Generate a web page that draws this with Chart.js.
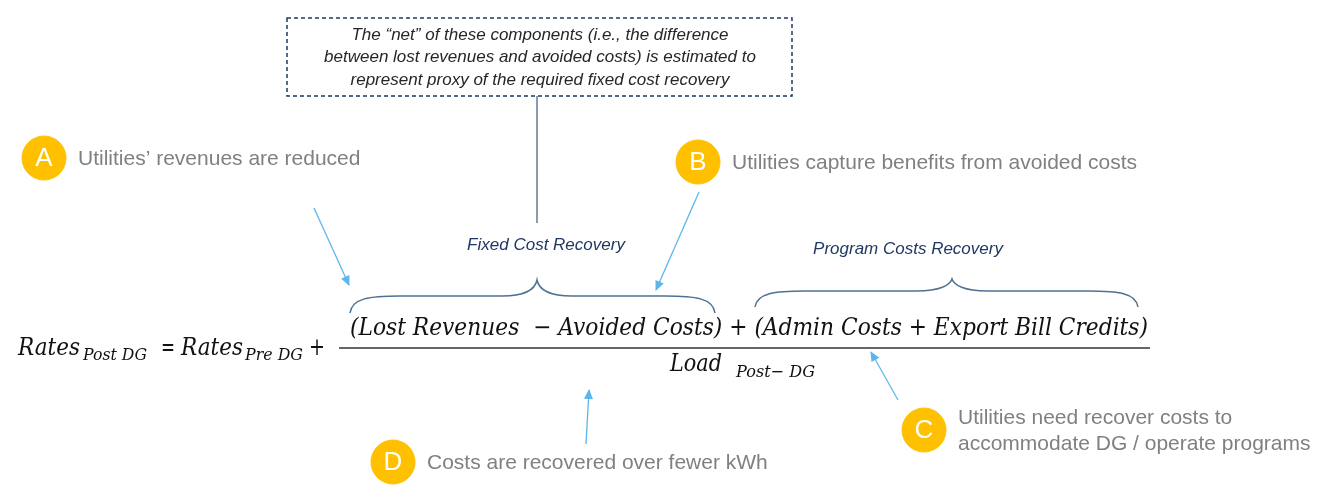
<!DOCTYPE html>
<html>
<head>
<meta charset="utf-8">
<script src="https://cdn.jsdelivr.net/npm/chart.js@4"></script>
<style>
  html, body { margin: 0; padding: 0; background: #fff; }
  canvas { display: block; }
</style>
</head>
<body>
<canvas id="diagram" width="1323" height="487"></canvas>
<script>
// Callout markers (letter, position in diagram units, note text)
const markerLetters = ["A", "B", "C", "D"];
const markerX = [44, 698, 924, 393];
const markerY = [158, 162, 430, 462];
const markerNotes = [
  ["Utilities\u2019 revenues are reduced"],
  ["Utilities capture benefits from avoided costs"],
  ["Utilities need recover costs to", "accommodate DG / operate programs"],
  ["Costs are recovered over fewer kWh"],
];

// Arrows: tail -> head
const arrowTail = [[314, 208], [699, 192], [898, 400], [586, 444]];
const arrowHead = [[349, 285], [656, 290], [871, 352], [589, 390]];

// Texts
const boxLines = [
  "The \u201cnet\u201d of these components (i.e., the difference",
  "between lost revenues and avoided costs) is estimated to",
  "represent proxy of the required fixed cost recovery",
];
const braceLabels = ["Fixed Cost Recovery", "Program Costs Recovery"];
const numerator = "(Lost Revenues  \u2212 Avoided Costs) + (Admin Costs + Export Bill Credits)";

const arrowColor = "#5DB6EA";
const braceColor = "#4F7193";
const navy = "#1F3864";
const grey = "#808080";
const mathFont = "\"DejaVu Serif\", serif";

// draw text squeezed/stretched to a target width
function fitText(ctx, text, x, y, width, font) {
  ctx.font = font;
  const w = ctx.measureText(text).width;
  const s = width / w;
  ctx.save();
  ctx.translate(x, y);
  ctx.scale(s, 1);
  ctx.fillText(text, 0, 0);
  ctx.restore();
}

function brace(ctx, px, x1, x2, tip, yEnd, yFlat, yTip) {
  const a = px(x1, yEnd), b = px(x2, yEnd), t = px(tip, yTip);
  const fl = px(0, yFlat).y;
  ctx.beginPath();
  ctx.moveTo(a.x, a.y);
  ctx.bezierCurveTo(a.x + 2, fl + 2, a.x + 20, fl, a.x + 50, fl);
  ctx.lineTo(t.x - 35, fl);
  ctx.bezierCurveTo(t.x - 12, fl, t.x - 2, fl - 6, t.x, t.y);
  ctx.bezierCurveTo(t.x + 2, fl - 6, t.x + 12, fl, t.x + 35, fl);
  ctx.lineTo(b.x - 50, fl);
  ctx.bezierCurveTo(b.x - 20, fl, b.x - 2, fl + 2, b.x, b.y);
  ctx.stroke();
}

const overlay = {
  id: "overlay",
  afterDatasetsDraw(chart) {
    const ctx = chart.ctx;
    const xs = chart.scales.x, ys = chart.scales.y;
    const px = (x, y) => ({ x: xs.getPixelForValue(x), y: ys.getPixelForValue(y) });
    ctx.save();

    // arrowheads
    ctx.fillStyle = arrowColor;
    arrowHead.forEach((h, i) => {
      const p = px(h[0], h[1]), q = px(arrowTail[i][0], arrowTail[i][1]);
      const ang = Math.atan2(p.y - q.y, p.x - q.x);
      ctx.save();
      ctx.translate(p.x, p.y);
      ctx.rotate(ang);
      ctx.beginPath();
      ctx.moveTo(1, 0);
      ctx.lineTo(-9, -4.5);
      ctx.lineTo(-9, 4.5);
      ctx.closePath();
      ctx.fill();
      ctx.restore();
    });

    // letters in circles and notes
    ctx.textBaseline = "middle";
    markerLetters.forEach((l, i) => {
      const p = px(markerX[i], markerY[i]);
      ctx.fillStyle = "#fff";
      ctx.textAlign = "center";
      ctx.font = "26px \"Liberation Sans\", Arial, sans-serif";
      ctx.fillText(l, p.x, p.y + 1);
      ctx.fillStyle = grey;
      ctx.textAlign = "left";
      ctx.font = "21px \"Liberation Sans\", Arial, sans-serif";
      const lines = markerNotes[i];
      lines.forEach((t, j) => {
        const dy = (j - (lines.length - 1) / 2) * 26;
        ctx.fillText(t, p.x + 34, p.y + dy + 1);
      });
    });

    // dashed box
    const b1 = px(287, 18), b2 = px(792, 96);
    ctx.strokeStyle = navy;
    ctx.lineWidth = 1.5;
    ctx.setLineDash([4, 3]);
    ctx.strokeRect(b1.x, b1.y, b2.x - b1.x, b2.y - b1.y);
    ctx.setLineDash([]);
    ctx.fillStyle = "#262626";
    ctx.textAlign = "center";
    ctx.font = "italic 17px \"Liberation Sans\", Arial, sans-serif";
    boxLines.forEach((t, j) => {
      const p = px(540, 35 + j * 22.5);
      ctx.fillText(t, p.x, p.y);
    });

    // connector from the box down to the brace label
    const c1 = px(537, 96), c2 = px(537, 223);
    ctx.strokeStyle = "#3A5A7C";
    ctx.lineWidth = 1.2;
    ctx.beginPath();
    ctx.moveTo(c1.x, c1.y);
    ctx.lineTo(c2.x, c2.y);
    ctx.stroke();

    // brace labels
    ctx.fillStyle = navy;
    ctx.font = "italic 17px \"Liberation Sans\", Arial, sans-serif";
    let p = px(546, 245);
    ctx.fillText(braceLabels[0], p.x, p.y);
    p = px(908, 249);
    ctx.fillText(braceLabels[1], p.x, p.y);

    // braces
    ctx.strokeStyle = braceColor;
    ctx.lineWidth = 1.5;
    brace(ctx, px, 350, 715, 537, 313, 296, 280);
    brace(ctx, px, 755, 1138, 952, 307, 291, 279);

    // formula
    ctx.fillStyle = "#111";
    ctx.textAlign = "left";
    ctx.textBaseline = "alphabetic";
    const big = "italic 24px " + mathFont;
    const small = "italic 17px " + mathFont;
    const up = "24px " + mathFont;
    p = px(18, 355); fitText(ctx, "Rates", p.x, p.y, 62, big);
    p = px(83, 360); fitText(ctx, "Post DG", p.x, p.y, 64, small);
    p = px(161, 355); fitText(ctx, "=", p.x, p.y, 14, up);
    p = px(181, 355); fitText(ctx, "Rates", p.x, p.y, 62, big);
    p = px(245, 360); fitText(ctx, "Pre DG", p.x, p.y, 58, small);
    p = px(309, 355); fitText(ctx, "+", p.x, p.y, 16, up);
    p = px(350, 335); fitText(ctx, numerator, p.x, p.y, 798, big);
    p = px(670, 371); fitText(ctx, "Load", p.x, p.y, 52, big);
    p = px(736, 377); fitText(ctx, "Post\u2212 DG", p.x, p.y, 79, small);

    const f1 = px(339, 348), f2 = px(1150, 348);
    ctx.strokeStyle = "#333";
    ctx.lineWidth = 1.3;
    ctx.beginPath();
    ctx.moveTo(f1.x, f1.y);
    ctx.lineTo(f2.x, f2.y);
    ctx.stroke();

    ctx.restore();
  },
};

const arrowDatasets = arrowTail.map((t, i) => ({
  type: "line",
  data: [{ x: t[0], y: t[1] }, { x: arrowHead[i][0], y: arrowHead[i][1] }],
  borderColor: arrowColor,
  borderWidth: 1.3,
  pointRadius: 0,
  clip: false,
}));

new Chart(document.getElementById("diagram"), {
  type: "scatter",
  data: {
    datasets: [
      ...arrowDatasets,
      {
        data: markerX.map((x, i) => ({ x, y: markerY[i] })),
        backgroundColor: "#FFC000",
        borderColor: "#FFC000",
        pointRadius: 22,
        pointHoverRadius: 22,
        clip: false,
      },
    ],
  },
  options: {
    responsive: false,
    animation: false,
    devicePixelRatio: 1,
    layout: { padding: 0, autoPadding: false },
    events: [],
    scales: {
      x: { type: "linear", min: 0, max: 1323, display: false },
      y: { type: "linear", min: 0, max: 487, reverse: true, display: false },
    },
    plugins: { legend: { display: false }, tooltip: { enabled: false } },
  },
  plugins: [overlay],
});
</script>
</body>
</html>
